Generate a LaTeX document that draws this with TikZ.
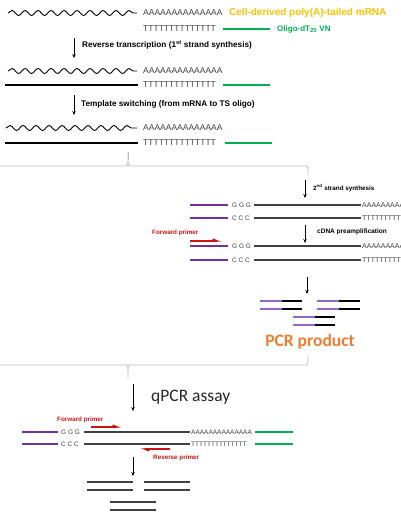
\documentclass[tikz,border=0pt]{standalone}
\usepackage{fontspec}
\setmainfont{Liberation Sans}
\newfontfamily\calibri{Carlito}
\usetikzlibrary{arrows.meta,decorations.pathmorphing}

\definecolor{mrnaorange}{RGB}{255,192,0}
\definecolor{oligogreen}{RGB}{0,176,80}
\definecolor{tspurple}{RGB}{112,48,160}
\definecolor{lightpurple}{RGB}{150,100,200}
\definecolor{primerred}{RGB}{200,20,20}
\definecolor{pcrorange}{RGB}{237,125,49}
\definecolor{bracketgray}{RGB}{190,190,190}
\definecolor{seqgray}{RGB}{64,64,64}

\tikzset{
  seq/.style={font=\fontsize{8.5}{8.5}\selectfont, text=seqgray, inner sep=0pt, anchor=west},
  smallseq/.style={font=\fontsize{6.5}{6.5}\selectfont, text=seqgray, inner sep=0pt, anchor=west},
  note/.style={font=\bfseries\fontsize{8.2}{8.2}\selectfont, inner sep=0pt, anchor=west},
  smallnote/.style={font=\bfseries\fontsize{6.3}{6.3}\selectfont, inner sep=0pt, anchor=west},
  rna/.style={decorate, decoration={snake, segment length=13pt, amplitude=2.5pt}, line width=0.9pt},
  cdna/.style={line width=2pt},
  dsdna/.style={line width=1.6pt, draw=seqgray},
  oligo/.style={line width=2.4pt, draw=oligogreen},
  tsoligo/.style={line width=1.4pt, draw=tspurple},
  frag/.style={line width=1.2pt},
  stepdown/.style={line width=0.8pt, -{Stealth[length=4pt,width=3.5pt]}},
  bracket/.style={draw=bracketgray, line width=0.8pt},
  primer/.style={draw=primerred, line width=1.3pt, -{Straight Barb[harpoon,length=5pt,width=4pt]}}
}

\begin{document}
\begin{tikzpicture}[x=1pt,y=-1pt]
        \useasboundingbox (0,0) rectangle (400,516);
        \clip (0,0) rectangle (400,516);

        % mRNA with oligo-dT primer
        \draw [rna]                 (8,13)    -- (137,13);                                 %mRNA
        \node [seq] (polyA1)        at (143,13)  {AAAAAAAAAAAAAA};                         %
        \node [note, text=mrnaorange, font=\bfseries\fontsize{10}{10}\selectfont] (mrna) at (229,13) {Cell-derived poly(A)-tailed mRNA};
        \node [seq] (polyT1)        at (143,29)  {TTTTTTTTTTTTTT};                         %
        \draw [oligo]               (223,29)  -- (270,29);                                 %oligo-dT
        \node [note, text=oligogreen, font=\bfseries\fontsize{8}{8}\selectfont] (oligo) at (277,29) {Oligo-dT\textsubscript{20} VN};
        \coordinate (rt top)        at (74,38);
        \coordinate (rt bot)        at (74,58);
        \draw [stepdown]            (rt top)  -- (rt bot);                                 %
        \node [note] (rt)           at (82,45)  {Reverse transcription (1\textsuperscript{st} strand synthesis)};

        % first strand
        \draw [rna]                 (8,71)    -- (137,71);                                 %
        \node [seq] (polyA2)        at (143,71)  {AAAAAAAAAAAAAA};                         %
        \draw [cdna]                (5,85)    -- (138,85);                                 %cDNA
        \node [seq] (polyT2)        at (143,85)  {TTTTTTTTTTTTTT};                         %
        \draw [oligo]               (223,85)  -- (270,85);                                 %
        \coordinate (ts top)        at (74,95);
        \coordinate (ts bot)        at (74,115);
        \draw [stepdown]            (ts top)  -- (ts bot);                                 %
        \node [note] (ts)           at (81,104) {Template switching (from mRNA to TS oligo)};

        % template switching
        \draw [rna]                 (6,128)   -- (137,128);                                %
        \node [seq] (polyA3)        at (143,128) {AAAAAAAAAAAAAA};                         %
        \draw [cdna]                (5,143)   -- (138,143);                                %
        \node [seq] (polyT3)        at (143,143) {TTTTTTTTTTTTTT};                         %
        \draw [oligo]               (225,143) -- (272,143);                                %

        % zoom bracket
        \draw [bracket]             (128,152) -- (128,160);                                %
        \draw [bracket]             (0,166) -- (125,166) .. controls (128,166) .. (128,153)
                                    .. controls (128,166) .. (131,166) -- (305,166)
                                    .. controls (308,166) .. (308,175);                    %

        % second strand
        \coordinate (ss top)        at (305,180);
        \coordinate (ss bot)        at (305,198);
        \draw [stepdown]            (ss top)  -- (ss bot);                                 %
        \node [smallnote] (ss)      at (313,188) {2\textsuperscript{nd} strand synthesis}; %
        \draw [tsoligo]             (190,205) -- (228,205);                                %
        \node [smallseq] (ggg1)     at (232,205) {G G G};                                  %
        \draw [dsdna]               (254,205) -- (361,205);                                %
        \node [smallseq, font=\fontsize{7}{7}\selectfont] (polyA4) at (362,205) {AAAAAAAAAAAAAA};
        \draw [tsoligo]             (190,218) -- (228,218);                                %
        \node [smallseq] (ccc1)     at (232,218) {C C C};                                  %
        \draw [dsdna]               (254,218) -- (361,218);                                %
        \node [smallseq, font=\fontsize{7}{7}\selectfont] (polyT4) at (362,218) {TTTTTTTTTTTTTT};

        % preamplification
        \coordinate (pa top)        at (305,225);
        \coordinate (pa bot)        at (305,243);
        \draw [stepdown]            (pa top)  -- (pa bot);                                 %
        \node [smallnote, font=\bfseries\fontsize{6.5}{6.5}\selectfont] (pa) at (317,232) {cDNA preamplification};
        \node [smallnote, text=primerred] (fwd1) at (152,233) {Forward primer};            %
        \draw [primer]              (190,241) -- (221,241);                                %
        \draw [tsoligo]             (190,246) -- (228,246);                                %
        \node [smallseq] (ggg2)     at (232,246) {G G G};                                  %
        \draw [dsdna]               (254,246) -- (361,246);                                %
        \node [smallseq, font=\fontsize{7}{7}\selectfont] (polyA5) at (362,246) {AAAAAAAAAAAAAA};
        \draw [tsoligo]             (190,260) -- (228,260);                                %
        \node [smallseq] (ccc2)     at (232,260) {C C C};                                  %
        \draw [dsdna]               (254,260) -- (361,260);                                %
        \node [smallseq, font=\fontsize{7}{7}\selectfont] (polyT5) at (362,260) {TTTTTTTTTTTTTT};

        % PCR product
        \coordinate (pcr top)       at (307,277);
        \coordinate (pcr bot)       at (307,294);
        \draw [stepdown]            (pcr top) -- (pcr bot);                                %
        \draw [frag, lightpurple]   (260,301) -- (282,301);  \draw [frag] (282,301) -- (302,301);
        \draw [frag, lightpurple]   (260,309) -- (282,309);  \draw [frag] (282,309) -- (302,309);
        \draw [frag, lightpurple]   (317,301) -- (339,301);  \draw [frag] (339,301) -- (360,301);
        \draw [frag, lightpurple]   (317,309) -- (339,309);  \draw [frag] (339,309) -- (360,309);
        \draw [frag, lightpurple]   (293,317) -- (315,317);  \draw [frag] (315,317) -- (335,317);
        \draw [frag, lightpurple]   (293,325) -- (315,325);  \draw [frag] (315,325) -- (335,325);
        \node [text=pcrorange, font=\calibri\bfseries\fontsize{17.5}{17.5}\selectfont, inner sep=0pt] (pcr) at (310,342) {PCR product};

        % second bracket
        \draw [bracket]             (308,355) .. controls (308,365) .. (305,365) -- (131,365)
                                    .. controls (128,365) .. (128,378)
                                    .. controls (128,365) .. (125,365) -- (0,365);        %

        % qPCR
        \coordinate (q top)         at (133,384);
        \coordinate (q bot)         at (133,411);
        \draw [stepdown, line width=1pt] (q top) -- (q bot);                               %
        \node [anchor=west, inner sep=0pt, text=black!85, font=\calibri\fontsize{17.5}{17.5}\selectfont] (qpcr) at (151,397) {qPCR assay};
        \node [smallnote, text=primerred] (fwd2) at (57,420) {Forward primer};             %
        \draw [primer]              (91,427)  -- (121,427);                                %
        \draw [tsoligo]             (22,432)  -- (58,432);                                 %
        \node [smallseq] (ggg3)     at (61,432)  {G G G};                                  %
        \draw [dsdna]               (84,432)  -- (190,432);                                %
        \node [smallseq] (polyA6)   at (191,432) {AAAAAAAAAAAAAA};                         %
        \draw [oligo]               (255,432) -- (293,432);                                %
        \draw [tsoligo]             (22,444)  -- (58,444);                                 %
        \node [smallseq] (ccc3)     at (61,444)  {C C C};                                  %
        \draw [dsdna]               (84,444)  -- (190,444);                                %
        \node [smallseq] (polyT6)   at (191,444) {TTTTTTTTTTTTTT};                         %
        \draw [oligo]               (255,444) -- (293,444);                                %
        \draw [primer]              (170,449) -- (141,449);                                %
        \node [smallnote, text=primerred] (rev) at (153,458) {Reverse primer};             %

        % amplicons
        \coordinate (amp top)       at (133,457);
        \coordinate (amp bot)       at (133,476);
        \draw [stepdown]            (amp top) -- (amp bot);                                %
        \draw [frag, seqgray]       (87,482)  -- (133,482);                                %
        \draw [frag, seqgray]       (87,490)  -- (133,490);                                %
        \draw [frag, seqgray]       (144,482) -- (190,482);                                %
        \draw [frag, seqgray]       (144,490) -- (190,490);                                %
        \draw [frag, seqgray]       (110,502) -- (156,502);                                %
        \draw [frag, seqgray]       (110,510) -- (156,510);                                %
      \end{tikzpicture}
\end{document}
